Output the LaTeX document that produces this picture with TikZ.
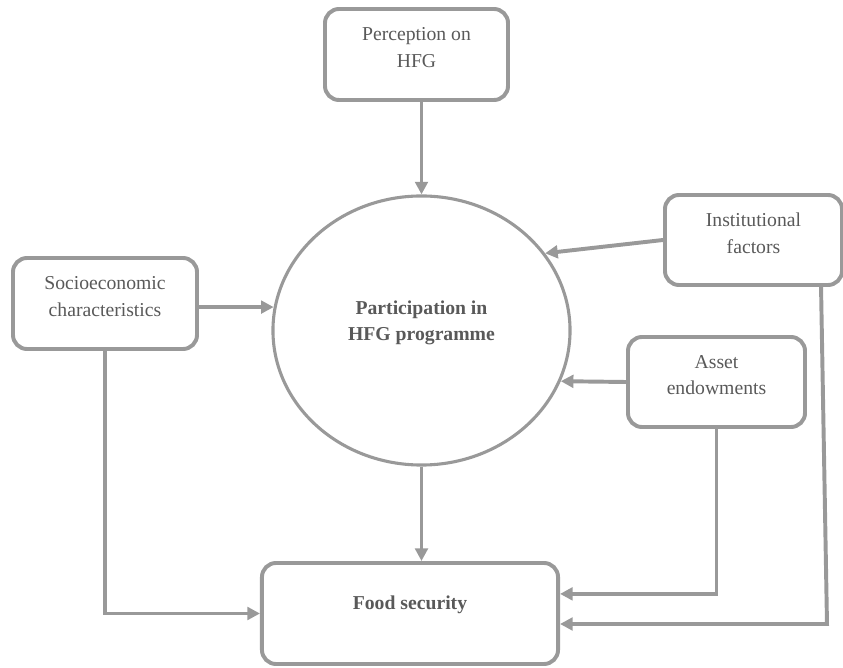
\documentclass[tikz,border=0pt]{standalone}
\usepackage{xcolor}
\usepackage{fontspec}
\setmainfont{Liberation Serif}
\usepackage{tikz}
\usetikzlibrary{arrows.meta}
\usetikzlibrary{shapes.geometric}

\definecolor{linegray}{RGB}{153,153,153}
\definecolor{textgray}{RGB}{89,89,89}

\begin{document}
\begin{tikzpicture}[x=0.025cm,y=-0.025cm]
      \tikzstyle{factor}=[draw=linegray,line width=2.8pt,rounded corners=10pt,align=center,text=textgray,font=\fontsize{14}{19}\selectfont,text depth=10pt]
      \tikzstyle{core}=[ellipse,draw=linegray,line width=2.2pt,align=center,text=textgray,font=\fontsize{14}{19}\selectfont\bfseries,text depth=14pt]
      \tikzstyle{edge}=[draw=linegray,line width=2.8pt,-{Triangle[length=9pt,width=9pt]}]
      \useasboundingbox (0,0) rectangle (843,668);
      \node[factor,minimum width=4.575cm,minimum height=2.275cm] (perc) at (416.5,54.5) {Perception on\\HFG};
      \node[factor,minimum width=4.425cm,minimum height=2.25cm] (inst) at (753.5,240) {Institutional\\factors};
      \node[factor,minimum width=4.6cm,minimum height=2.275cm] (socio) at (105,303.5) {Socioeconomic\\characteristics};
      \node[factor,minimum width=4.425cm,minimum height=2.25cm] (asset) at (716.5,382) {Asset\\endowments};
      \node[core,minimum width=7.425cm,minimum height=6.725cm] (part) at (421.5,330.5) {Participation in\\HFG programme};
      \node[factor,font=\fontsize{14}{19}\selectfont\bfseries,text depth=16pt,minimum width=7.4cm,minimum height=2.525cm] (food) at (410,613.5) {Food security};
      \coordinate (instfoot) at (821,285);
      \coordinate (instbend) at (827,624);
      \draw[edge] (perc.south -| part.north) -- (part.north);
      \draw[edge] (inst.west) -- (part.32);
      \draw[edge] (socio.east |- part.171) -- (part.171);
      \draw[edge] (asset.west) -- (part.-20);
      \draw[edge] (part.south) -- (part.south |- food.north);
      \draw[edge] (socio.south) |- (food.west);
      \draw[edge] (asset.south) |- ([yshift=0.49cm]food.east);
      \draw[edge] (instfoot) -- (instbend) -- (instbend -| food.east);
    \end{tikzpicture}
\end{document}
